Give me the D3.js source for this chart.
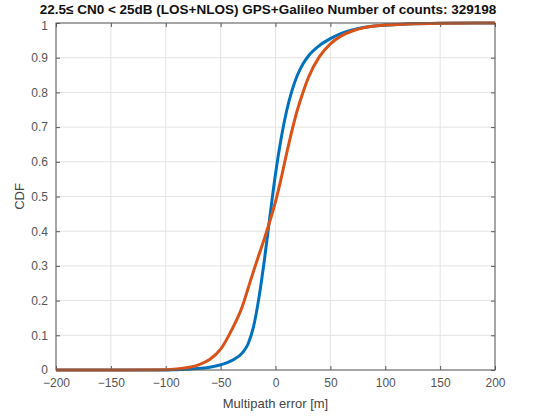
<!DOCTYPE html>
<html><head><meta charset="utf-8">
<script src="https://cdn.jsdelivr.net/npm/d3@7"></script>
<style>body{margin:0;background:#fff;}svg{display:block;font-family:"Liberation Sans",Arial,sans-serif;}</style>
</head><body>
<svg id="c" width="536" height="418"></svg>
<script>
const titleText = "22.5\u2264 CN0 < 25dB (LOS+NLOS) GPS+Galileo Number of counts: 329198";
const xLabel = "Multipath error [m]";
const yLabel = "CDF";
const xTicks = [-200,-150,-100,-50,0,50,100,150,200];
const yTicks = [0,0.1,0.2,0.3,0.4,0.5,0.6,0.7,0.8,0.9,1];
const errors = [-200,-150,-100,-90,-80,-70,-60,-50,-40,-30,-25,-20,-15,-10,-5,0,5,10,15,20,25,30,40,50,60,70,80,100,120,150,200];
const cdfBlue = [0,0,0,0.001,0.002,0.004,0.008,0.015,0.027,0.05,0.075,0.125,0.21,0.32,0.445,0.565,0.665,0.745,0.805,0.85,0.882,0.905,0.935,0.955,0.97,0.98,0.987,0.994,0.997,0.999,1];
const cdfOrange = [0,0,0.001,0.003,0.007,0.015,0.03,0.06,0.115,0.185,0.235,0.285,0.333,0.38,0.43,0.485,0.55,0.622,0.69,0.75,0.8,0.843,0.903,0.94,0.963,0.977,0.986,0.994,0.997,0.999,1];
const seriesColors = ["#0072BD","#D95319"];

const svg = d3.select("#c");
const L=56,R=495,T=23,B=370;
const x = d3.scaleLinear().domain([-200,200]).range([L,R]);
const y = d3.scaleLinear().domain([0,1]).range([B,T]);

// grid
svg.append("g").selectAll("line").data(xTicks).join("line")
  .attr("x1",d=>x(d)).attr("x2",d=>x(d)).attr("y1",T).attr("y2",B)
  .attr("stroke","#e3e3e3").attr("stroke-width",1);
svg.append("g").selectAll("line").data(yTicks).join("line")
  .attr("x1",L).attr("x2",R).attr("y1",d=>y(d)).attr("y2",d=>y(d))
  .attr("stroke","#e3e3e3").attr("stroke-width",1);

// axes
const axCol="#5a5a5a";
const xa = svg.append("g").attr("transform",`translate(0,${B})`)
  .call(d3.axisBottom(x).tickValues(xTicks).tickSize(-4).tickPadding(8).tickFormat(d3.format("d")));
const xt = svg.append("g").attr("transform",`translate(0,${T})`)
  .call(d3.axisTop(x).tickValues(xTicks).tickSize(-4).tickFormat(""));
const ya = svg.append("g").attr("transform",`translate(${L},0)`)
  .call(d3.axisLeft(y).tickValues(yTicks).tickSize(-4).tickPadding(8).tickFormat(d=>d===0?"0":d===1?"1":d3.format(".1f")(d)));
const yr = svg.append("g").attr("transform",`translate(${R},0)`)
  .call(d3.axisRight(y).tickValues(yTicks).tickSize(-4).tickFormat(""));
[xa,xt,ya,yr].forEach(g=>{
  g.select(".domain").remove();
  g.selectAll(".tick line").attr("stroke",axCol);
  g.selectAll("text").attr("fill","#555").style("font-size","12px").style("font-family","'Liberation Sans',Arial,sans-serif");
});
ya.selectAll(".tick").filter(d=>d===1).select("text").attr("dy","0.5em");

// lines
const line = d3.line().x(d=>x(d[0])).y(d=>y(d[1])).curve(d3.curveMonotoneX);
[cdfBlue,cdfOrange].forEach((s,i)=>{
  svg.append("path").datum(errors.map((e,k)=>[e,s[k]]))
    .attr("d",line).attr("fill","none").attr("stroke",seriesColors[i])
    .attr("stroke-width",3).attr("stroke-linejoin","round");
});

// box
svg.append("rect").attr("x",L).attr("y",T).attr("width",R-L).attr("height",B-T)
  .attr("fill","none").attr("stroke",axCol).attr("stroke-width",1);

// labels
svg.append("text").attr("x",(L+R)/2).attr("y",408).attr("text-anchor","middle")
  .attr("fill","#444").style("font-size","13px").text(xLabel);
svg.append("text").attr("transform",`translate(24,${(T+B)/2}) rotate(-90)`).attr("text-anchor","middle")
  .attr("fill","#444").style("font-size","13px").text(yLabel);
svg.append("text").attr("x",268).attr("y",14).attr("text-anchor","middle")
  .attr("fill","#111").style("font-size","13.5px").style("font-weight","bold").text(titleText);
</script>
</body></html>
